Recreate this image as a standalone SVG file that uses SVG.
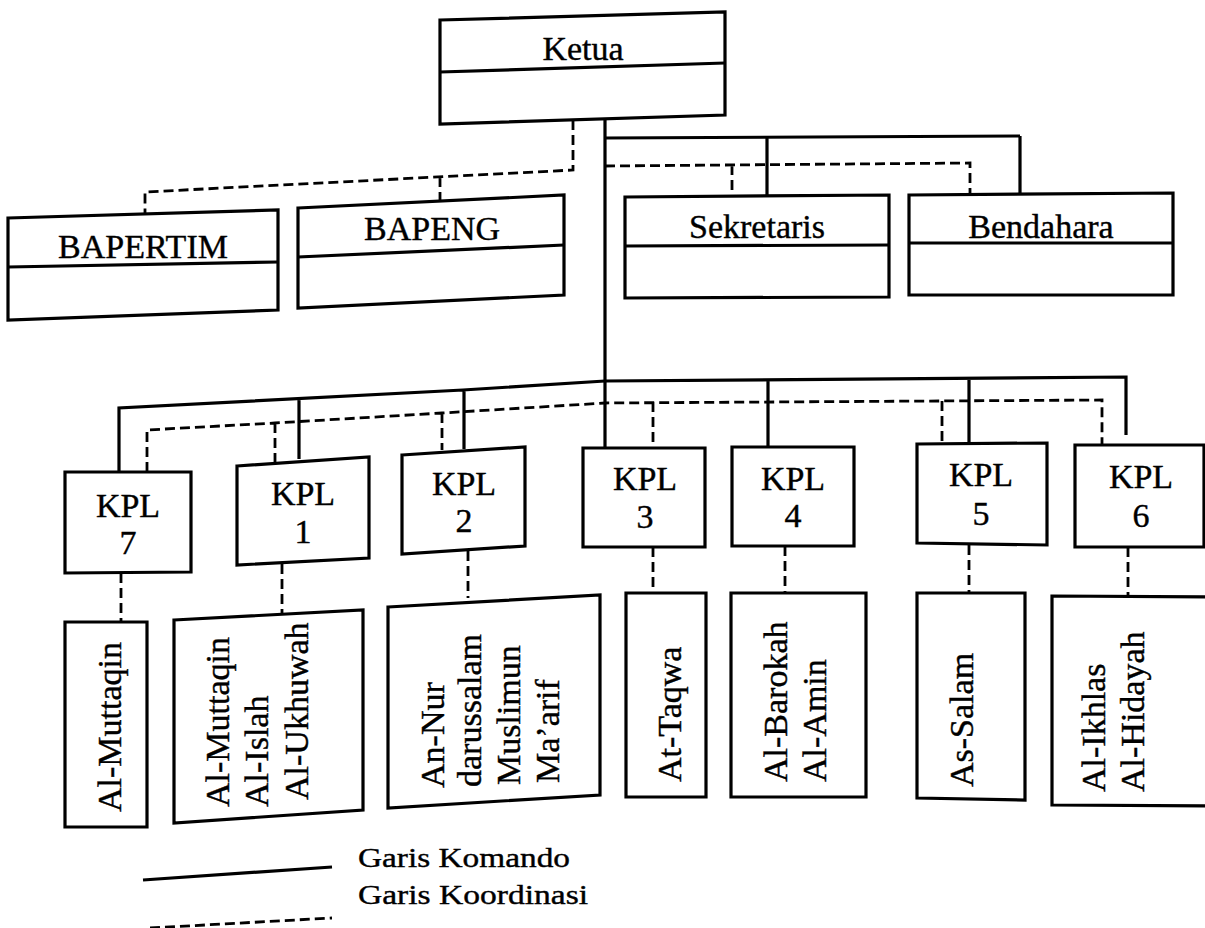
<svg xmlns="http://www.w3.org/2000/svg" width="1205" height="928" viewBox="0 0 1205 928">
<style>
.box{fill:#fff;stroke:#000;stroke-width:3.2;stroke-linejoin:miter}
.div{stroke:#000;stroke-width:3.2}
.cmd{fill:none;stroke:#000;stroke-width:3.2}
.crd{fill:none;stroke:#000;stroke-width:2.8;stroke-dasharray:10 5}
.t{font-family:"Liberation Serif","Times New Roman",serif;font-size:34px;fill:#000;stroke:#000;stroke-width:0.4}
.m{text-anchor:middle}
.lg{font-size:28px}
</style>
<rect width="1205" height="928" fill="#fff"/>
<g id="connectors">
  <path class="cmd" d="M605,117 V448 M605,138 L1020,136 M767,137 V195 M1020,136 V193"/>
  <path class="cmd" d="M119,472 V408 L463,390 L605,381 L1126,377 V435 M299,400 V459 M464,390 V449 M768,380 V447 M969,378 V443"/>
  <path class="crd" d="M573,120 V170 L145,192 V216 M440,177 V202"/>
  <path class="crd" d="M605,166 L970,163 V193 M732,165 V196"/>
  <path class="crd" d="M147,472 V430 L275,423 L442,413 L605,403 L1102,400 V446 M275,423 V462 M442,413 V450 M653,402 V448 M942,401 V444"/>
  <path class="crd" d="M121,573 V622 M282,564 V613 M468,551 V598 M653,547 V593 M785,546 V593 M969,545 V593 M1128,547 V596"/>
</g>
<g id="ketua"><polygon class="box" points="440,20 725,12 725,115 440,124"/><line class="div" x1="440" y1="72" x2="725" y2="63"/><text class="t m" x="583" y="60">Ketua</text></g>
<g id="bapertim"><polygon class="box" points="8,218 278,210 278,310 8,320"/><line class="div" x1="8" y1="267" x2="278" y2="262"/><text class="t m" x="143" y="258">BAPERTIM</text></g>
<g id="bapeng"><polygon class="box" points="298,208 564,195 564,295 298,308"/><line class="div" x1="298" y1="257" x2="564" y2="245"/><text class="t m" x="432" y="240">BAPENG</text></g>
<g id="sekretaris"><polygon class="box" points="625,197 889,195 889,297 625,298"/><line class="div" x1="625" y1="246" x2="889" y2="245"/><text class="t m" x="757" y="238">Sekretaris</text></g>
<g id="bendahara"><polygon class="box" points="909,195 1173,193 1173,295 909,295"/><line class="div" x1="909" y1="243" x2="1173" y2="243"/><text class="t m" x="1041" y="238">Bendahara</text></g>
<g id="kpl7"><polygon class="box" points="65,472 191,472 191,572 65,573"/><text class="t m" x="128" y="517">KPL</text><text class="t m" x="128" y="554">7</text></g>
<g id="kpl1"><polygon class="box" points="237,466 369,457 369,558 237,565"/><text class="t m" x="303" y="505">KPL</text><text class="t m" x="303" y="543">1</text></g>
<g id="kpl2"><polygon class="box" points="402,455 525,447 525,546 402,554"/><text class="t m" x="464" y="495">KPL</text><text class="t m" x="464" y="532">2</text></g>
<g id="kpl3"><polygon class="box" points="583,448 705,448 705,547 583,547"/><text class="t m" x="645" y="490">KPL</text><text class="t m" x="645" y="528">3</text></g>
<g id="kpl4"><polygon class="box" points="732,447 854,447 854,546 732,546"/><text class="t m" x="793" y="490">KPL</text><text class="t m" x="793" y="527">4</text></g>
<g id="kpl5"><polygon class="box" points="917,444 1047,443 1047,545 917,543"/><text class="t m" x="981" y="486">KPL</text><text class="t m" x="981" y="525">5</text></g>
<g id="kpl6"><polygon class="box" points="1075,445 1204,445 1204,547 1075,547"/><text class="t m" x="1141" y="488">KPL</text><text class="t m" x="1141" y="527">6</text></g>
<g id="unit7"><polygon class="box" points="65,622 147,622 147,827 65,827"/><text class="t" transform="translate(121,812) rotate(-90)">Al-Muttaqin</text></g>
<g id="unit1"><polygon class="box" points="174,620 363,610 363,810 174,823"/>
  <text class="t" transform="translate(229,807) rotate(-90)">Al-Muttaqin</text>
  <text class="t" transform="translate(268,807) rotate(-90)">Al-Islah</text>
  <text class="t" transform="translate(308,800) rotate(-90)">Al-Ukhuwah</text></g>
<g id="unit2"><polygon class="box" points="388,607 600,595 600,795 388,808"/>
  <text class="t" transform="translate(444,788) rotate(-90)">An-Nur</text>
  <text class="t" transform="translate(481,787) rotate(-90)">darussalam</text>
  <text class="t" transform="translate(520,785) rotate(-90)">Muslimun</text>
  <text class="t" transform="translate(559,783) rotate(-90)">Ma’arif</text></g>
<g id="unit3"><polygon class="box" points="626,593 706,593 706,797 626,797"/><text class="t" transform="translate(681,782) rotate(-90)">At-Taqwa</text></g>
<g id="unit4"><polygon class="box" points="731,593 866,593 866,797 731,797"/>
  <text class="t" transform="translate(787,782) rotate(-90)">Al-Barokah</text>
  <text class="t" transform="translate(826,782) rotate(-90)">Al-Amin</text></g>
<g id="unit5"><polygon class="box" points="917,593 1025,593 1025,800 917,798"/><text class="t" transform="translate(973,787) rotate(-90)">As-Salam</text></g>
<g id="unit6"><polygon class="box" points="1052,596 1215,597 1215,806 1052,805"/>
  <text class="t" transform="translate(1105,792) rotate(-90)">Al-Ikhlas</text>
  <text class="t" transform="translate(1144,792) rotate(-90)">Al-Hidayah</text></g>
<g id="legend">
  <line class="cmd" x1="143" y1="880" x2="332" y2="867"/>
  <line class="crd" x1="150" y1="928" x2="332" y2="918"/>
  <text class="t lg" x="358" y="867" textLength="212" lengthAdjust="spacingAndGlyphs">Garis Komando</text>
  <text class="t lg" x="358" y="904" textLength="230" lengthAdjust="spacingAndGlyphs">Garis Koordinasi</text>
</g>
</svg>
